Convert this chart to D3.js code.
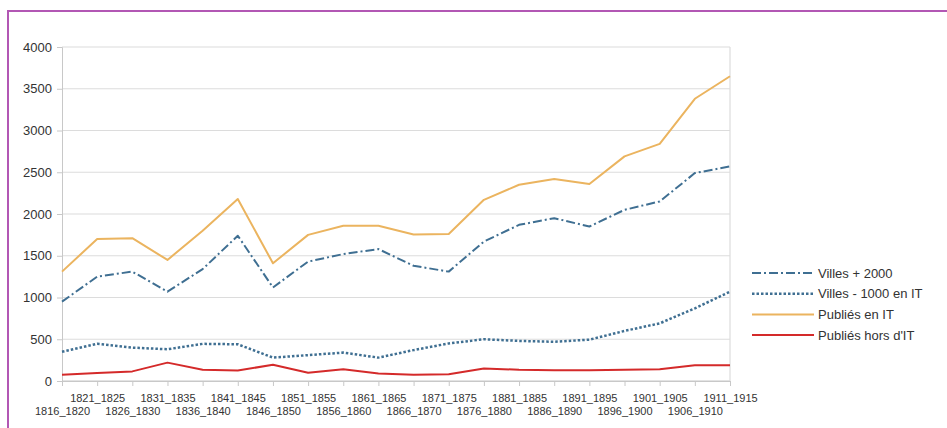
<!DOCTYPE html>
<meta charset="utf-8">
<style>
  body { margin: 0; background: #fff; }
  text { font-family: "Liberation Sans", Arial, sans-serif; fill: #333; }
</style>
<script src="https://d3js.org/d3.v7.min.js"></script>
<div id="chart"></div>
<script>
// periods on the x axis
var periods = ["1816_1820","1821_1825","1826_1830","1831_1835","1836_1840","1841_1845",
  "1846_1850","1851_1855","1856_1860","1861_1865","1866_1870","1871_1875","1876_1880",
  "1881_1885","1886_1890","1891_1895","1896_1900","1901_1905","1906_1910","1911_1915"];

var villesPlus2000 = [950,1250,1310,1070,1340,1740,1120,1430,1520,1580,1380,1310,1670,1870,1950,1850,2050,2150,2490,2570];
var villesMoins1000 = [350,445,400,380,445,440,280,310,340,280,370,450,500,480,470,495,600,690,870,1070];
var publiesIT = [1310,1700,1710,1450,1800,2180,1410,1750,1860,1860,1755,1760,2170,2350,2420,2360,2690,2840,3380,3650];
var publiesHorsIT = [75,95,115,220,135,125,195,100,140,90,75,80,150,135,130,130,135,140,190,190];

var yTicks = [0,500,1000,1500,2000,2500,3000,3500,4000];

var series = [
  {name: "Villes + 2000", values: villesPlus2000, color: "#3f6f92", dash: "9,3,2,3", width: 2},
  {name: "Villes - 1000 en IT", values: villesMoins1000, color: "#3f6f92", dash: "2.5,2", width: 2.5},
  {name: "Publiés en IT", values: publiesIT, color: "#ebb45f", dash: null, width: 2},
  {name: "Publiés hors d'IT", values: publiesHorsIT, color: "#d42a2a", dash: null, width: 2}
];

var W = 947, H = 428;
var plot = {left: 62, right: 730, top: 47, bottom: 381};

var svg = d3.select("#chart").append("svg")
  .attr("width", W).attr("height", H);

// purple frame (only top and left edges visible)
svg.append("rect")
  .attr("x", 8).attr("y", 11)
  .attr("width", W + 20).attr("height", H + 20)
  .attr("fill", "none")
  .attr("stroke", "#b257b4")
  .attr("stroke-width", 2);

var x = d3.scalePoint()
  .domain(periods)
  .range([plot.left, plot.right]);

var y = d3.scaleLinear()
  .domain([0, 4000])
  .range([plot.bottom, plot.top]);

// horizontal grid
svg.append("g")
  .selectAll("line")
  .data(yTicks)
  .enter().append("line")
    .attr("x1", plot.left).attr("x2", plot.right)
    .attr("y1", function(d) { return y(d); })
    .attr("y2", function(d) { return y(d); })
    .attr("stroke", function(d) { return d === 0 ? "#c8c8c8" : "#dcdcdc"; })
    .attr("stroke-width", 1.2);

// y axis
var yAxis = svg.append("g")
  .attr("transform", "translate(" + plot.left + ",0)")
  .call(d3.axisLeft(y).tickValues(yTicks).tickFormat(d3.format("d")).tickSize(5).tickPadding(5));
yAxis.select(".domain").attr("stroke", "#c8c8c8");
yAxis.selectAll(".tick line").attr("stroke", "#c8c8c8");
yAxis.selectAll("text").style("font-size", "13px").attr("fill", "#333");

// right edge of plot
svg.append("line")
  .attr("x1", plot.right).attr("x2", plot.right)
  .attr("y1", plot.top).attr("y2", plot.bottom)
  .attr("stroke", "#dcdcdc").attr("stroke-width", 1.2);

// x axis
var xAxis = svg.append("g")
  .attr("transform", "translate(0," + plot.bottom + ")")
  .call(d3.axisBottom(x).tickSize(5).tickPadding(0));
xAxis.select(".domain").attr("stroke", "#c8c8c8");
xAxis.selectAll(".tick line").attr("stroke", "#c8c8c8");
xAxis.selectAll("text")
  .style("font-size", "11px")
  .attr("fill", "#333")
  .attr("dy", null)
  .attr("y", function(d, i) { return i % 2 === 0 ? 34 : 21; });

// lines
var line = d3.line()
  .x(function(d, i) { return x(periods[i]); })
  .y(function(d) { return y(d); });

svg.append("g")
  .selectAll("path")
  .data(series)
  .enter().append("path")
    .attr("d", function(s) { return line(s.values); })
    .attr("fill", "none")
    .attr("stroke", function(s) { return s.color; })
    .attr("stroke-width", function(s) { return s.width; })
    .attr("stroke-dasharray", function(s) { return s.dash; })
    .attr("stroke-linejoin", "round");

// legend
var legend = svg.append("g")
  .selectAll("g")
  .data(series)
  .enter().append("g")
    .attr("transform", function(s, i) { return "translate(752," + (273 + i * 20.7) + ")"; });

legend.append("line")
  .attr("x1", 0).attr("x2", 62)
  .attr("stroke", function(s) { return s.color; })
  .attr("stroke-width", function(s) { return s.width; })
  .attr("stroke-dasharray", function(s) { return s.dash; });

legend.append("text")
  .attr("x", 66)
  .attr("dy", "0.35em")
  .style("font-size", "13px")
  .text(function(s) { return s.name; });
</script>
